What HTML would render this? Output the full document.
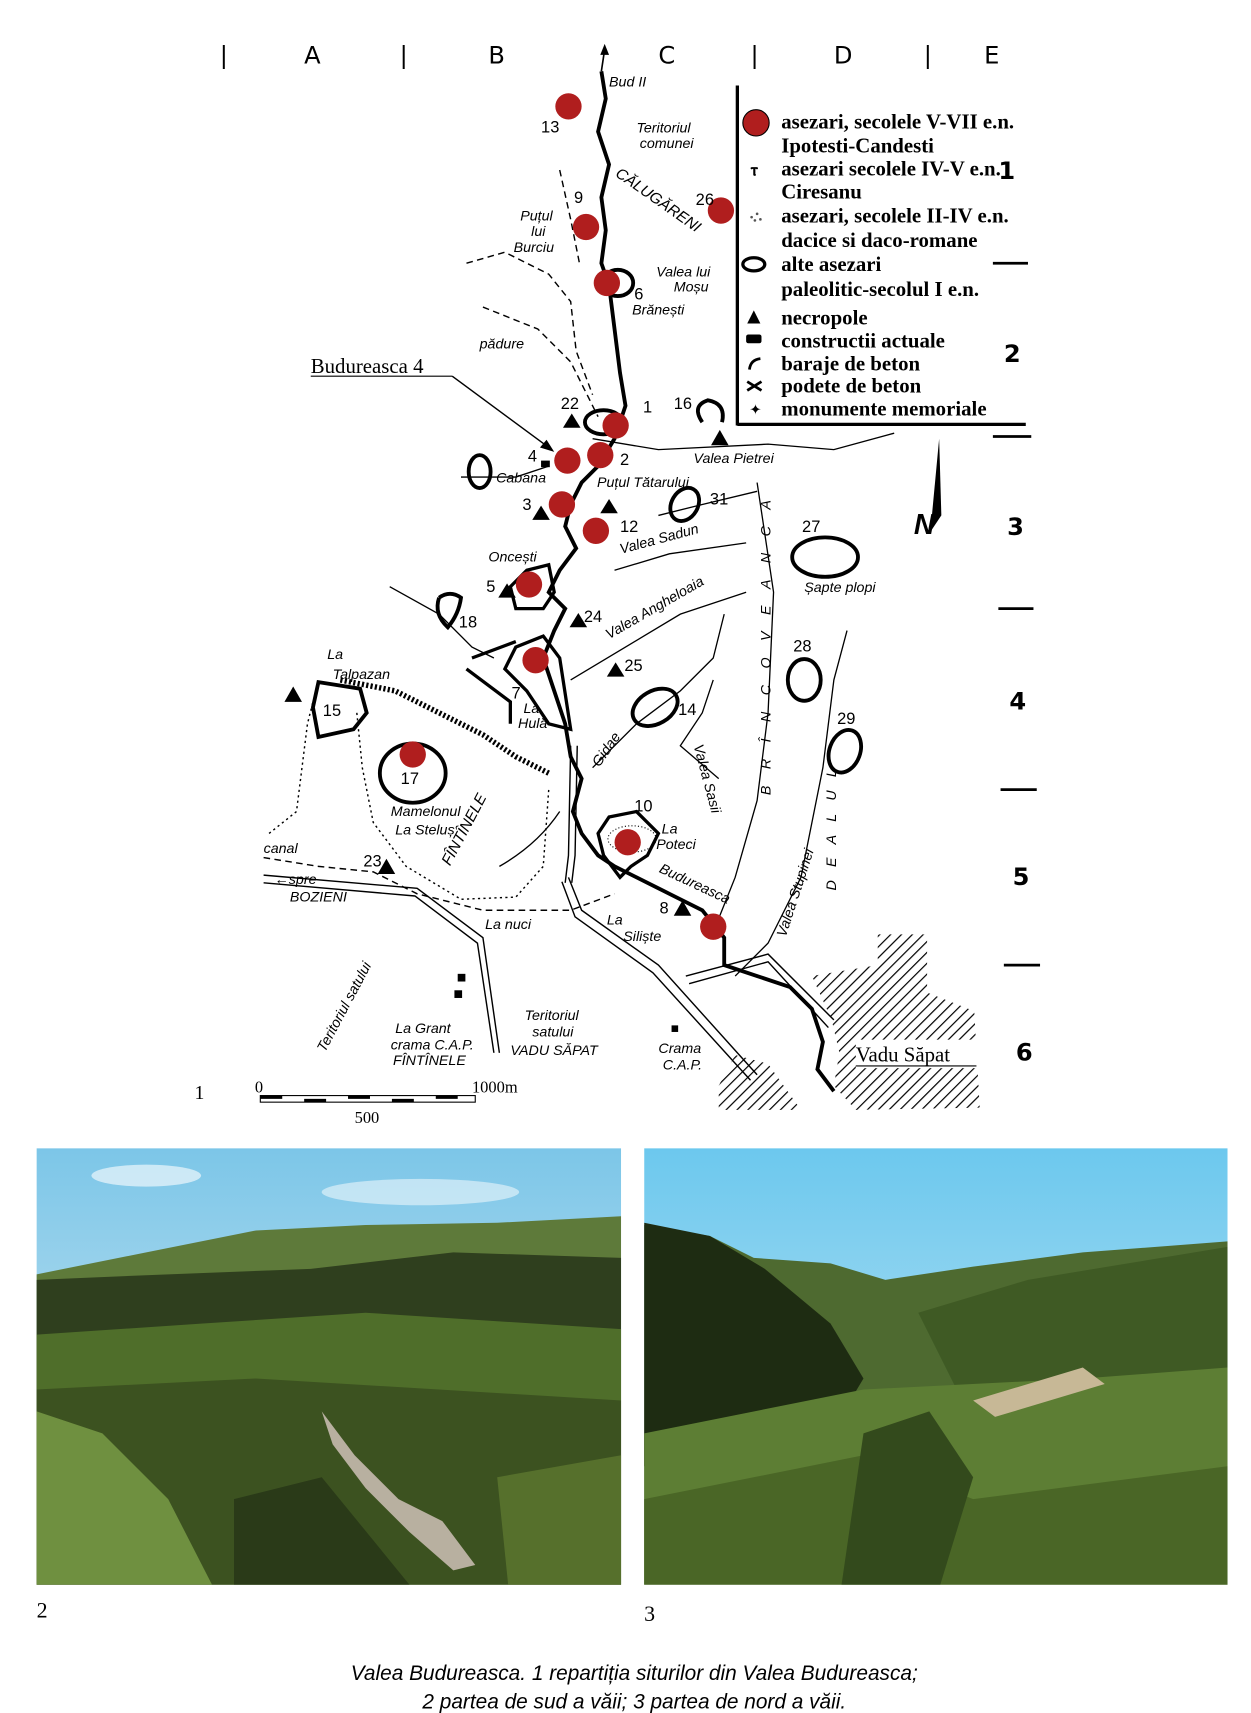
<!DOCTYPE html>
<html><head><meta charset="utf-8"><style>
html,body{margin:0;padding:0;background:#fff;}
svg{display:block;}
.h{font-family:"DejaVu Sans","Liberation Sans",sans-serif;font-size:22px;}
.m{font-family:"Liberation Sans",sans-serif;font-style:italic;font-size:13px;}
.l{font-family:"Liberation Serif",serif;font-weight:bold;font-size:19px;}
.n{font-family:"Liberation Sans",sans-serif;font-size:15px;}
.r{font-family:"DejaVu Sans",sans-serif;font-weight:bold;font-size:22px;}
</style></head><body>
<svg width="1251" height="1713" viewBox="0 0 1140 1562" xmlns="http://www.w3.org/2000/svg">
<defs>
<pattern id="hat" width="7" height="7" patternUnits="userSpaceOnUse" patternTransform="rotate(45)"><line x1="0" y1="0" x2="0" y2="7" stroke="#000" stroke-width="2.2"/></pattern>
<linearGradient id="sky1" x1="0" y1="0" x2="0" y2="1"><stop offset="0" stop-color="#7cc6e8"/><stop offset="1" stop-color="#dfeef4"/></linearGradient>
<linearGradient id="sky2" x1="0" y1="0" x2="0" y2="1"><stop offset="0" stop-color="#6cc8ee"/><stop offset="1" stop-color="#cfe9f3"/></linearGradient>
</defs>
<g class="h" fill="#000">
<text x="200" y="58">|</text><text x="277" y="58">A</text><text x="364" y="58">|</text><text x="445" y="58">B</text>
<text x="600" y="58">C</text><text x="684" y="58">|</text><text x="760" y="58">D</text><text x="842" y="58">|</text><text x="897" y="58">E</text>
</g>
<g class="r">
<text x="910" y="163">1</text><text x="915" y="330">2</text><text x="918" y="488">3</text><text x="920" y="647">4</text><text x="923" y="807">5</text><text x="926" y="967">6</text>
</g>
<g stroke="#000" stroke-width="2.5">
<line x1="905" y1="240" x2="937" y2="240"/><line x1="905" y1="398" x2="940" y2="398"/><line x1="910" y1="555" x2="942" y2="555"/><line x1="912" y1="720" x2="945" y2="720"/><line x1="915" y1="880" x2="948" y2="880"/>
</g>
<line x1="672" y1="78" x2="672" y2="388" stroke="#000" stroke-width="3"/>
<line x1="672" y1="387" x2="935" y2="387" stroke="#000" stroke-width="3"/>
<circle cx="689" cy="112" r="12" fill="#b01e1e" stroke="#000" stroke-width="1"/>
<text x="684" y="160" font-size="16" font-weight="bold">ⲧ</text>
<g fill="#555"><circle cx="685" cy="198" r="1.2"/><circle cx="690" cy="195" r="1.2"/><circle cx="688" cy="201" r="1.2"/><circle cx="693" cy="200" r="1.2"/></g>
<ellipse cx="687" cy="241" rx="10" ry="6" fill="none" stroke="#000" stroke-width="3"/>
<polygon points="681,295 687,283 693,295" fill="#000"/>
<rect x="680" y="305" width="14" height="8" rx="2" fill="#000"/>
<path d="M683,337 Q684,328 693,327" fill="none" stroke="#000" stroke-width="2.5"/>
<path d="M681,348 L694,356 M681,356 L694,348" stroke="#000" stroke-width="2.5"/>
<text x="683" y="378" font-size="13">✦</text>
<g class="l">
<text x="712" y="117">asezari, secolele V-VII e.n.</text>
<text x="712" y="139">Ipotesti-Candesti</text>
<text x="712" y="160">asezari secolele IV-V e.n.</text>
<text x="712" y="181">Ciresanu</text>
<text x="712" y="203">asezari, secolele II-IV e.n.</text>
<text x="712" y="225">dacice si daco-romane</text>
<text x="712" y="247">alte asezari</text>
<text x="712" y="270">paleolitic-secolul I e.n.</text>
<text x="712" y="296">necropole</text>
<text x="712" y="317">constructii actuale</text>
<text x="712" y="338">baraje de beton</text>
<text x="712" y="358">podete de beton</text>
<text x="712" y="379">monumente memoriale</text>
</g>
<polygon points="856,400 848,485 858,470" fill="#000"/>
<text x="833" y="487" font-family="Liberation Sans" font-weight="bold" font-style="italic" font-size="26">N</text>
<g fill="none" stroke="#000" stroke-width="1.2">
<path d="M540,400 L600,410 L700,405 L760,410 L815,395"/>
<path d="M420,435 L470,435 L500,425"/>
<path d="M600,470 L640,460 L690,448"/>
<path d="M560,520 L610,505 L680,495"/>
<path d="M355,535 L400,560 L430,590 L450,600"/>
<path d="M520,620 L570,590 L620,560 L680,540"/>
<path d="M540,700 L580,660 L620,630 L650,600 L660,560"/>
<path d="M655,710 L620,680 L640,650 L650,620"/>
<path d="M650,850 L670,800 L690,730 L700,650 L705,540 L690,440"/>
<path d="M670,890 L700,860 L730,800 L750,700 L760,620 L772,575"/>
<path d="M455,790 Q490,770 510,740"/>
</g>
<g fill="none" stroke="#000" stroke-width="1.3" stroke-dasharray="6,4">
<path d="M425,240 L460,230 L500,250 L520,275 L525,320 L540,360"/>
<path d="M510,155 L520,200 L528,240"/>
<path d="M440,280 L490,300 L520,330 L535,360 L545,380"/>
<path d="M240,782 L290,790 L340,795 L380,815 L440,830 L520,830 L560,815"/>
</g>
<g fill="none" stroke="#000" stroke-width="1.3" stroke-dasharray="2,3">
<path d="M245,760 L270,740 L275,700 L280,660 L285,640"/>
<path d="M325,650 L330,700 L340,750 L370,790 L420,820 L470,818 L495,790 L500,720"/>
</g>
<path d="M310,620 L360,630 L400,650 L440,670 L470,690 L500,705" fill="none" stroke="#000" stroke-width="5" stroke-dasharray="2,2"/>
<g fill="none" stroke="#000" stroke-width="1.3">
<path d="M240,798 L380,810 L440,855 L455,960"/><path d="M240,805 L378,817 L435,860 L450,960"/>
<path d="M518,800 L530,830 L600,880 L690,980"/><path d="M512,804 L524,836 L595,887 L684,985"/>
<path d="M520,680 L518,780 L515,805"/><path d="M526,680 L524,780 L521,805"/>
<path d="M625,890 L700,870 L760,930"/><path d="M628,897 L700,877 L755,937"/>
</g>
<path d="M548,65 L552,90 L545,120 L555,150 L548,180 L552,210 L548,240 L555,260 L560,300 L565,340 L570,370 L560,400 L545,425 L530,440 L520,460 L515,480 L525,500 L510,520 L500,540 L515,555 L505,575 L495,600 L505,630 L515,660 L520,690 L530,710 L522,740 L530,760 L545,780 L560,790 L580,800 L610,815 L640,830 L660,855 L660,880 L690,890 L720,900 L740,920 L750,950 L745,975 L760,995" fill="none" stroke="#000" stroke-width="3.5"/>
<path d="M548,65 L551,45" stroke="#000" stroke-width="1.5"/><polygon points="547,50 551,40 555,50" fill="#000"/>
<g fill="none" stroke="#000" stroke-width="3">
<path d="M470,590 L460,610 L480,630 L500,660 L520,665 L510,600 L495,580 Z"/>
<path d="M430,600 L470,585 M425,610 L465,640 L465,660"/>
<path d="M545,760 L555,745 L580,740 L600,760 L590,780 L575,790 L565,800 L550,780 Z"/>
<path d="M480,520 L500,515 L505,540 L495,555 L470,555 L465,535 Z"/>
</g>
<ellipse cx="576" cy="765" rx="22" ry="12" fill="none" stroke="#000" stroke-dasharray="1,2"/>
<g fill="none" stroke="#000" stroke-width="3.5">
<path d="M640,385 Q630,370 645,365 Q662,368 658,385"/>
<ellipse cx="437" cy="430" rx="10" ry="15"/>
<ellipse cx="624" cy="460" rx="12" ry="16" transform="rotate(30 624 460)"/>
<ellipse cx="752" cy="508" rx="30" ry="18"/>
<path d="M400,545 Q395,560 408,572 Q418,560 420,545 Q410,538 400,545"/>
<ellipse cx="597" cy="645" rx="22" ry="15" transform="rotate(-30 597 645)"/>
<ellipse cx="733" cy="620" rx="15" ry="19"/>
<ellipse cx="770" cy="685" rx="14" ry="20" transform="rotate(20 770 685)"/>
<path d="M290,622 L328,628 L334,650 L322,665 L290,672 L285,645 Z"/>
<ellipse cx="376" cy="705" rx="30" ry="27"/>
<ellipse cx="550" cy="385" rx="17" ry="11"/>
<ellipse cx="563" cy="258" rx="14" ry="12"/>
</g>
<g fill="#b01e1e">
<circle cx="518" cy="97" r="12"/><circle cx="534" cy="207" r="12"/><circle cx="657" cy="192" r="12"/><circle cx="553" cy="258" r="12"/>
<circle cx="561" cy="388" r="12"/><circle cx="547" cy="415" r="12"/><circle cx="517" cy="420" r="12"/><circle cx="512" cy="460" r="12"/>
<circle cx="543" cy="484" r="12"/><circle cx="482" cy="533" r="12"/><circle cx="488" cy="602" r="12"/><circle cx="376" cy="688" r="12"/>
<circle cx="572" cy="768" r="12"/><circle cx="650" cy="845" r="12"/>
</g>
<g fill="#000">
<polygon points="513,390 521,377 529,390"/><polygon points="648,406 656,392 664,406"/><polygon points="485,474 493,461 501,474"/>
<polygon points="547,468 555,455 563,468"/><polygon points="454,545 462,532 470,545"/><polygon points="519,572 527,559 535,572"/>
<polygon points="553,617 561,604 569,617"/><polygon points="259,640 267,626 275,640"/><polygon points="344,797 352,783 360,797"/>
<polygon points="614,835 622,821 630,835"/><rect x="493" y="420" width="8" height="6"/>
<rect x="417" y="888" width="7" height="7"/><rect x="414" y="903" width="7" height="7"/><rect x="612" y="935" width="6" height="6"/>
</g>
<path d="M740,890 L770,885 L800,880 L800,852 L845,852 L845,905 L888,922 L893,1010 L780,1012 L760,990 L765,960 L758,930 Z" fill="url(#hat)"/>
<rect x="780" y="948" width="112" height="26" fill="#fff"/>
<path d="M655,990 L670,962 L700,970 L730,1012 L655,1012 Z" fill="url(#hat)"/>
<g class="m">
<text x="555" y="79">Bud II</text>
<text x="580" y="121">Teritoriul</text><text x="583" y="135">comunei</text>
<text x="560" y="160" transform="rotate(35 560 160)" font-size="14">CĂLUGĂRENI</text>
<text x="474" y="201">Puțul</text><text x="484" y="215">lui</text><text x="468" y="230">Burciu</text>
<text x="598" y="252">Valea lui</text><text x="614" y="266">Moșu</text><text x="576" y="287">Brănești</text>
<text x="437" y="318">pădure</text>
<text x="452" y="440">Cabana</text><text x="544" y="444">Puțul Tătarului</text><text x="632" y="422">Valea Pietrei</text>
<text x="445" y="512">Oncești</text>
<text x="566" y="505" transform="rotate(-15 566 505)">Valea Sadun</text>
<text x="555" y="583" transform="rotate(-30 555 583)">Valea Angheloaia</text>
<text x="298" y="601">La</text><text x="303" y="619">Talpazan</text>
<text x="477" y="650">La</text><text x="472" y="664">Hulă</text>
<text x="546" y="700" transform="rotate(-55 546 700)">Gidae</text>
<text x="603" y="760">La</text><text x="598" y="774">Poteci</text>
<text x="632" y="680" transform="rotate(75 632 680)">Valea Sasii</text>
<text x="356" y="744">Mamelonul</text><text x="360" y="761">La Steluș</text>
<text x="410" y="790" transform="rotate(-62 410 790)" font-size="14">FÎNTÎNELE</text>
<text x="240" y="778">canal</text>
<text x="250" y="806">←spre</text><text x="264" y="822">BOZIENI</text>
<text x="442" y="847">La nuci</text>
<text x="553" y="843">La</text><text x="568" y="858">Siliște</text>
<text x="600" y="795" transform="rotate(25 600 795)">Budureasca</text>
<text x="716" y="855" transform="rotate(-72 716 855)">Valea Stupinei</text>
<text x="296" y="960" transform="rotate(-62 296 960)">Teritoriul satului</text>
<text x="360" y="942">La Grant</text><text x="356" y="957">crama C.A.P.</text><text x="358" y="971">FÎNTÎNELE</text>
<text x="478" y="930">Teritoriul</text><text x="485" y="945">satului</text><text x="465" y="962">VADU SĂPAT</text>
<text x="600" y="960">Crama</text><text x="604" y="975">C.A.P.</text>
<text x="733" y="540">Șapte plopi</text>
</g>
<g class="m" font-style="normal" font-size="14">
<text x="0" y="0" transform="translate(702,725) rotate(-90)" letter-spacing="15">BRÎNCOVEANCA</text>
<text x="0" y="0" transform="translate(762,812) rotate(-90)" letter-spacing="12">DEALUL</text>
</g>
<g class="n">
<text x="493" y="121">13</text><text x="523" y="185">9</text><text x="634" y="187">26</text><text x="578" y="273">6</text>
<text x="511" y="373">22</text><text x="586" y="376">1</text><text x="614" y="373">16</text><text x="481" y="421">4</text><text x="565" y="424">2</text>
<text x="476" y="465">3</text><text x="565" y="485">12</text><text x="647" y="460">31</text><text x="731" y="485">27</text>
<text x="443" y="540">5</text><text x="532" y="567">24</text><text x="418" y="572">18</text><text x="569" y="612">25</text>
<text x="723" y="594">28</text><text x="618" y="652">14</text><text x="763" y="660">29</text><text x="294" y="653">15</text>
<text x="365" y="715">17</text><text x="466" y="637">7</text><text x="578" y="740">10</text><text x="331" y="790">23</text><text x="601" y="833">8</text>
</g>
<text x="283" y="340" font-family="Liberation Serif" font-size="19">Budureasca 4</text>
<line x1="283" y1="343" x2="412" y2="343" stroke="#000"/>
<line x1="412" y1="343" x2="500" y2="408" stroke="#000" stroke-width="1.3"/><polygon points="505,412 492,408 498,401" fill="#000"/>
<text x="780" y="968" font-family="Liberation Serif" font-size="19">Vadu Săpat</text>
<line x1="780" y1="972" x2="890" y2="972" stroke="#000"/>
<g font-family="Liberation Serif" font-size="15">
<text x="177" y="1002" font-size="18">1</text><text x="232" y="996">0</text><text x="430" y="996">1000m</text><text x="323" y="1024">500</text>
</g>
<rect x="237" y="999" width="196" height="6" fill="#fff" stroke="#000"/>
<g fill="#000"><rect x="237" y="999" width="20" height="3"/><rect x="277" y="1002" width="20" height="3"/><rect x="317" y="999" width="20" height="3"/><rect x="357" y="1002" width="20" height="3"/><rect x="397" y="999" width="20" height="3"/></g>
<svg x="33" y="1047" width="533" height="398" viewBox="0 0 533 398" preserveAspectRatio="none">
<rect width="533" height="398" fill="url(#sky1)"/>
<ellipse cx="100" cy="25" rx="50" ry="10" fill="#fff" opacity="0.6"/><ellipse cx="350" cy="40" rx="90" ry="12" fill="#fff" opacity="0.5"/>
<path d="M0,115 L100,95 L200,75 L300,70 L420,68 L533,62 L533,398 L0,398 Z" fill="#5e7a3a"/>
<path d="M0,120 L120,115 L250,110 L380,95 L533,100 L533,398 L0,398 Z" fill="#2f3f1e"/>
<path d="M0,170 L150,160 L300,150 L533,165 L533,398 L0,398 Z" fill="#4f6e2a"/>
<path d="M0,220 L200,210 L533,230 L533,398 L0,398 Z" fill="#3c5220"/>
<path d="M0,240 L60,260 L120,320 L160,398 L0,398 Z" fill="#6f9040"/>
<path d="M260,240 L290,280 L330,320 L370,340 L400,380 L380,385 L340,350 L300,310 L270,270 Z" fill="#b8b0a0"/>
<path d="M180,320 L260,300 L340,398 L180,398 Z" fill="#2a3a18"/>
<path d="M420,300 L533,280 L533,398 L430,398 Z" fill="#56702c"/>
</svg>
<svg x="587" y="1047" width="532" height="398" viewBox="0 0 532 398" preserveAspectRatio="none">
<rect width="532" height="398" fill="url(#sky2)"/>
<path d="M0,70 L60,80 L100,100 L170,105 L220,120 L300,108 L400,95 L532,85 L532,398 L0,398 Z" fill="#4e6a30"/>
<path d="M0,68 L60,80 L110,110 L170,160 L200,210 L170,260 L0,290 Z" fill="#1e2c12"/>
<path d="M250,150 L350,120 L532,90 L532,230 L300,250 Z" fill="#3f5a24"/>
<path d="M0,260 L200,220 L400,210 L532,200 L532,398 L0,398 Z" fill="#5d7e34"/>
<path d="M300,230 L400,200 L420,215 L320,245 Z" fill="#c7b896"/>
<path d="M0,320 L200,280 L300,320 L532,290 L532,398 L0,398 Z" fill="#4a6626"/>
<path d="M200,260 L260,240 L300,300 L270,398 L180,398 Z" fill="#334a1c"/>
</svg>
<g font-family="Liberation Serif" font-size="20"><text x="33" y="1475">2</text><text x="587" y="1478">3</text></g>
<g font-family="Liberation Sans" font-style="italic" font-size="19" text-anchor="middle">
<text x="578" y="1532">Valea Budureasca. 1 repartiția siturilor din Valea Budureasca;</text>
<text x="578" y="1558">2 partea de sud a văii; 3 partea de nord a văii.</text>
</g>
</svg>
</body></html>
